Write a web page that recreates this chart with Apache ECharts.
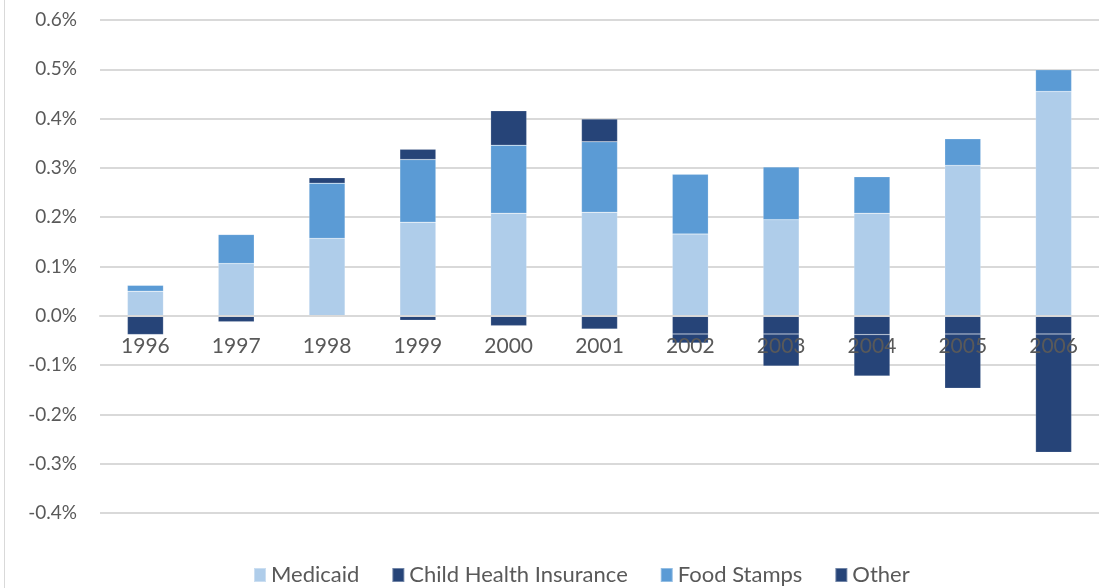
<!DOCTYPE html>
<html>
<head>
<meta charset="utf-8">
<script src="https://cdn.jsdelivr.net/npm/echarts@6/dist/echarts.min.js"></script>
<style>
  html, body { margin: 0; padding: 0; background: #fff; }
  #wrap { position: relative; width: 1099px; height: 588px; }
  #edge { position: absolute; left: 4px; top: 0; width: 1px; height: 588px; background: #d9d9d9; }
  #chart { position: absolute; left: 0; top: 0; width: 1099px; height: 588px; }
</style>
</head>
<body>
<div id="wrap">
  <div id="edge"></div>
  <div id="chart"></div>
</div>
<script>
// values in percent
const years = ["1996", "1997", "1998", "1999", "2000", "2001", "2002", "2003", "2004", "2005", "2006"];
const medicaid = [0.050, 0.106, 0.157, 0.190, 0.208, 0.210, 0.166, 0.195, 0.208, 0.305, 0.455];
const childHealth = [-0.038, -0.012, 0, -0.009, -0.020, -0.027, -0.037, -0.037, -0.038, -0.037, -0.037];
const foodStamps = [0.012, 0.059, 0.112, 0.127, 0.138, 0.143, 0.121, 0.107, 0.074, 0.054, 0.044];
const other = [0, 0, 0.011, 0.021, 0.070, 0.046, -0.018, -0.065, -0.084, -0.110, -0.240];

const textColor = "#595959";
const gridColor = "#d9d9d9";
const fontFamily = "Lato, 'Open Sans', sans-serif";

const yMin = -0.4;
const yMax = 0.6;
const plotTop = 20;
const plotHeight = 493;
// the category labels sit on the zero line, not under the plot
const zeroShift = -plotHeight * (0 - yMin) / (yMax - yMin);

const chart = echarts.init(document.getElementById("chart"));

function barSeries(name, data, color) {
  return {
    name: name,
    type: "bar",
    stack: "total",
    data: data,
    barWidth: 36,
    itemStyle: {
      color: color,
      borderColor: "rgba(255,255,255,0.35)",
      borderWidth: 0.5,
    },
    animation: false,
  };
}

chart.setOption({
  textStyle: { fontFamily: fontFamily },
  grid: {
    left: 100,
    width: 1003,
    top: plotTop,
    height: plotHeight,
  },
  legend: {
    top: 559,
    left: 248,
    itemWidth: 12,
    itemHeight: 14,
    itemGap: 32,
    icon: "rect",
    textStyle: { color: textColor, fontSize: 22, fontFamily: fontFamily },
    data: ["Medicaid", "Child Health Insurance", "Food Stamps", "Other"],
  },
  xAxis: {
    type: "category",
    data: years,
    z: 10,
    offset: zeroShift,
    axisLine: { onZero: false, lineStyle: { color: gridColor, width: 2 } },
    axisTick: { show: false },
    axisLabel: { color: textColor, fontSize: 21, margin: 20 },
  },
  yAxis: {
    type: "value",
    min: yMin,
    max: yMax,
    interval: 0.1,
    axisLine: { show: false },
    axisTick: { show: false },
    splitLine: { lineStyle: { color: gridColor, width: 2 } },
    axisLabel: {
      color: textColor,
      fontSize: 19,
      margin: 23,
      formatter: (v) => v.toFixed(1) + "%",
    },
  },
  series: [
    barSeries("Medicaid", medicaid, "#afcdea"),
    barSeries("Child Health Insurance", childHealth, "#264478"),
    barSeries("Food Stamps", foodStamps, "#5b9bd5"),
    barSeries("Other", other, "#264478"),
  ],
});
</script>
</body>
</html>
